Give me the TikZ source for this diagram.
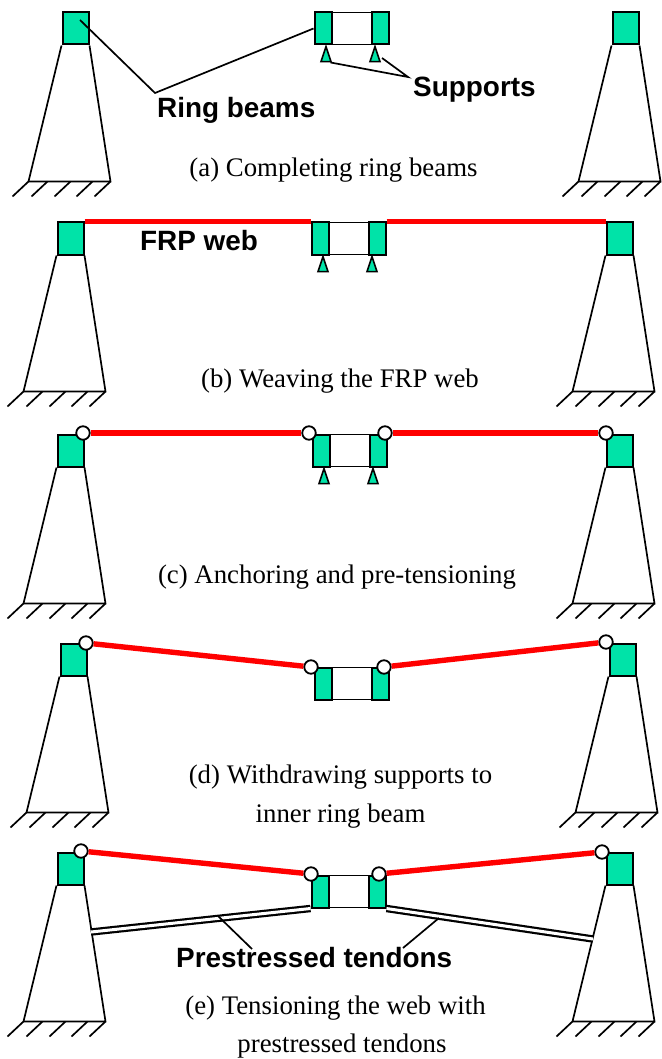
\documentclass[tikz,border=0pt]{standalone}
\usepackage{fontspec}
\usetikzlibrary{shapes.geometric}
\setmainfont{Liberation Serif}
\setsansfont{Liberation Sans}
\definecolor{beamgreen}{RGB}{0,227,168}
\definecolor{webred}{RGB}{255,0,0}

\tikzset{
    outerbeam/.style={rectangle, draw, fill=beamgreen, line width=2pt, minimum width=26pt, minimum height=32pt, anchor=north west, inner sep=0pt},
    innerbeam/.style={rectangle, draw, fill=beamgreen, line width=2pt, minimum width=17pt, minimum height=32pt, anchor=north west, inner sep=0pt},
    support/.style={isosceles triangle, isosceles triangle apex angle=35, isosceles triangle stretches, shape border rotate=90, draw, fill=beamgreen, line width=1.6pt, minimum height=15pt, minimum width=10pt, anchor=apex, inner sep=0pt},
    pin/.style={circle, draw, fill=white, line width=1.8pt, minimum size=13.5pt, inner sep=0pt},
    web/.style={webred, line width=5.4pt},
    tendon/.style={line width=2.2pt, double=white, double distance=3pt},
    leader/.style={line width=1.7pt},
    caption/.style={font=\fontsize{26.8}{38.5}\selectfont, align=center},
    tag/.style={font=\sffamily\bfseries\fontsize{27.9}{30}\selectfont, anchor=base west, inner sep=0pt}
}

% name, x and y of the top left corner of the beam
\newcommand{\towerpart}[3]{
    \node[outerbeam] (#1) at (#2,#3) {};
    \coordinate (#1bl) at ({#2-33},{#3+170});
    \coordinate (#1br) at ({#2+49},{#3+170});
    \draw[line width=1.7pt] (#1.south west) -- (#1bl) -- (#1br) -- (#1.south east);
    \foreach \dx in {0,19,42,64,82} {
        \draw[line width=1.7pt] (#1bl) ++(\dx,0) -- ++(-16,15);
    }
}
% name, x and y of the top left corner
\newcommand{\ringpart}[3]{
    \node[innerbeam] (#1l) at (#2,#3) {};
    \node[innerbeam] (#1r) at ({#2+57},#3) {};
    \draw[line width=1.8pt] ([yshift=-1pt]#1l.north east) -- ([yshift=-1pt]#1r.north west);
    \draw[line width=1.8pt] ([yshift=1pt]#1l.south east) -- ([yshift=1pt]#1r.south west);
}

\begin{document}
\begin{tikzpicture}[x=1pt, y=-1pt]
    \useasboundingbox (0,0) rectangle (661,1059);

    % (a)
    \towerpart{ta}{61.5}{11.5}
    \towerpart{ua}{611.5}{11.5}
    \ringpart{ra}{313.5}{11.5}
    \node[support] (sal) at (326,44) {};
    \node[support] (sar) at (375,44) {};
    \node[tag] (ringtag) at (157,118) {Ring beams};
    \node[tag] (supptag) at (413,97) {Supports};
    \coordinate (ringjoin) at (155,93);
    \coordinate (suppjoin) at (408,77);
    \coordinate (tain) at (80,20);
    \coordinate (sarin) at (382,58);
    \draw[leader] (tain) -- (ringjoin) -- (ral.west);
    \draw[leader] (sal.south east) -- (suppjoin) -- (sarin);
    \node[caption] (capa) at (333.5,170.5) {(a) Completing ring beams};

    % (b)
    \towerpart{tb}{56.5}{221.5}
    \towerpart{ub}{605.5}{221.5}
    \ringpart{rb}{310.5}{221.5}
    \node[support] (sbl) at (323,254) {};
    \node[support] (sbr) at (372,254) {};
    \draw[web] (tb.north east) -- (rbl.north west);
    \draw[web] (rbr.north east) -- (ub.north west);
    \node[tag] (frptag) at (140,251) {FRP web};
    \node[caption] (capb) at (340,381.5) {(b) Weaving the FRP web};

    % (c)
    \towerpart{tc}{56.5}{433.5}
    \towerpart{uc}{605.5}{433.5}
    \ringpart{rc}{311.5}{433.5}
    \node[support] (scl) at (324,466) {};
    \node[support] (scr) at (373,466) {};
    \node[pin] (pc1) at (83,433) {};
    \node[pin] (pc2) at (309,433) {};
    \node[pin] (pc3) at (385,433) {};
    \node[pin] (pc4) at (606,433) {};
    \draw[web] (pc1) -- (pc2);
    \draw[web] (pc3) -- (pc4);
    \node[caption] (capc) at (337,577.5) {(c) Anchoring and pre-tensioning};

    % (d)
    \towerpart{td}{59.5}{642.5}
    \towerpart{ud}{608.5}{642.5}
    \ringpart{rd}{313.5}{666.5}
    \node[pin] (pd1) at (86,643) {};
    \node[pin] (pd2) at (311,667) {};
    \node[pin] (pd3) at (384,667) {};
    \node[pin] (pd4) at (606,642) {};
    \draw[web] (pd1) -- (pd2);
    \draw[web] (pd3) -- (pd4);
    \node[caption] (capd) at (340.5,796.5) {(d) Withdrawing supports to\\inner ring beam};

    % (e)
    \towerpart{te}{56.5}{851.5}
    \towerpart{ue}{605.5}{851.5}
    \ringpart{re}{310.5}{874.5}
    \node[pin] (pe1) at (81,851) {};
    \node[pin] (pe2) at (311,874) {};
    \node[pin] (pe3) at (379,874) {};
    \node[pin] (pe4) at (602,852) {};
    \draw[web] (pe1) -- (pe2);
    \draw[web] (pe3) -- (pe4);
    \coordinate (tel) at (91,932);
    \coordinate (uel) at (593,939);
    \draw[tendon] (tel) -- (rel.south west);
    \draw[tendon] (rer.south east) -- (uel);
    \node[tag] (prestag) at (176,967) {Prestressed tendons};
    \coordinate (ltend) at (218,916);
    \coordinate (rtend) at (439,918);
    \coordinate (ltendin) at (252,949);
    \coordinate (rtendin) at (403,948);
    \draw[leader] (ltend) -- (ltendin);
    \draw[leader] (rtend) -- (rtendin);
    \node[caption] (cape) at (342,1027) {(e) Tensioning the web with\hspace*{13pt}\\prestressed tendons};
\end{tikzpicture}
\end{document}
